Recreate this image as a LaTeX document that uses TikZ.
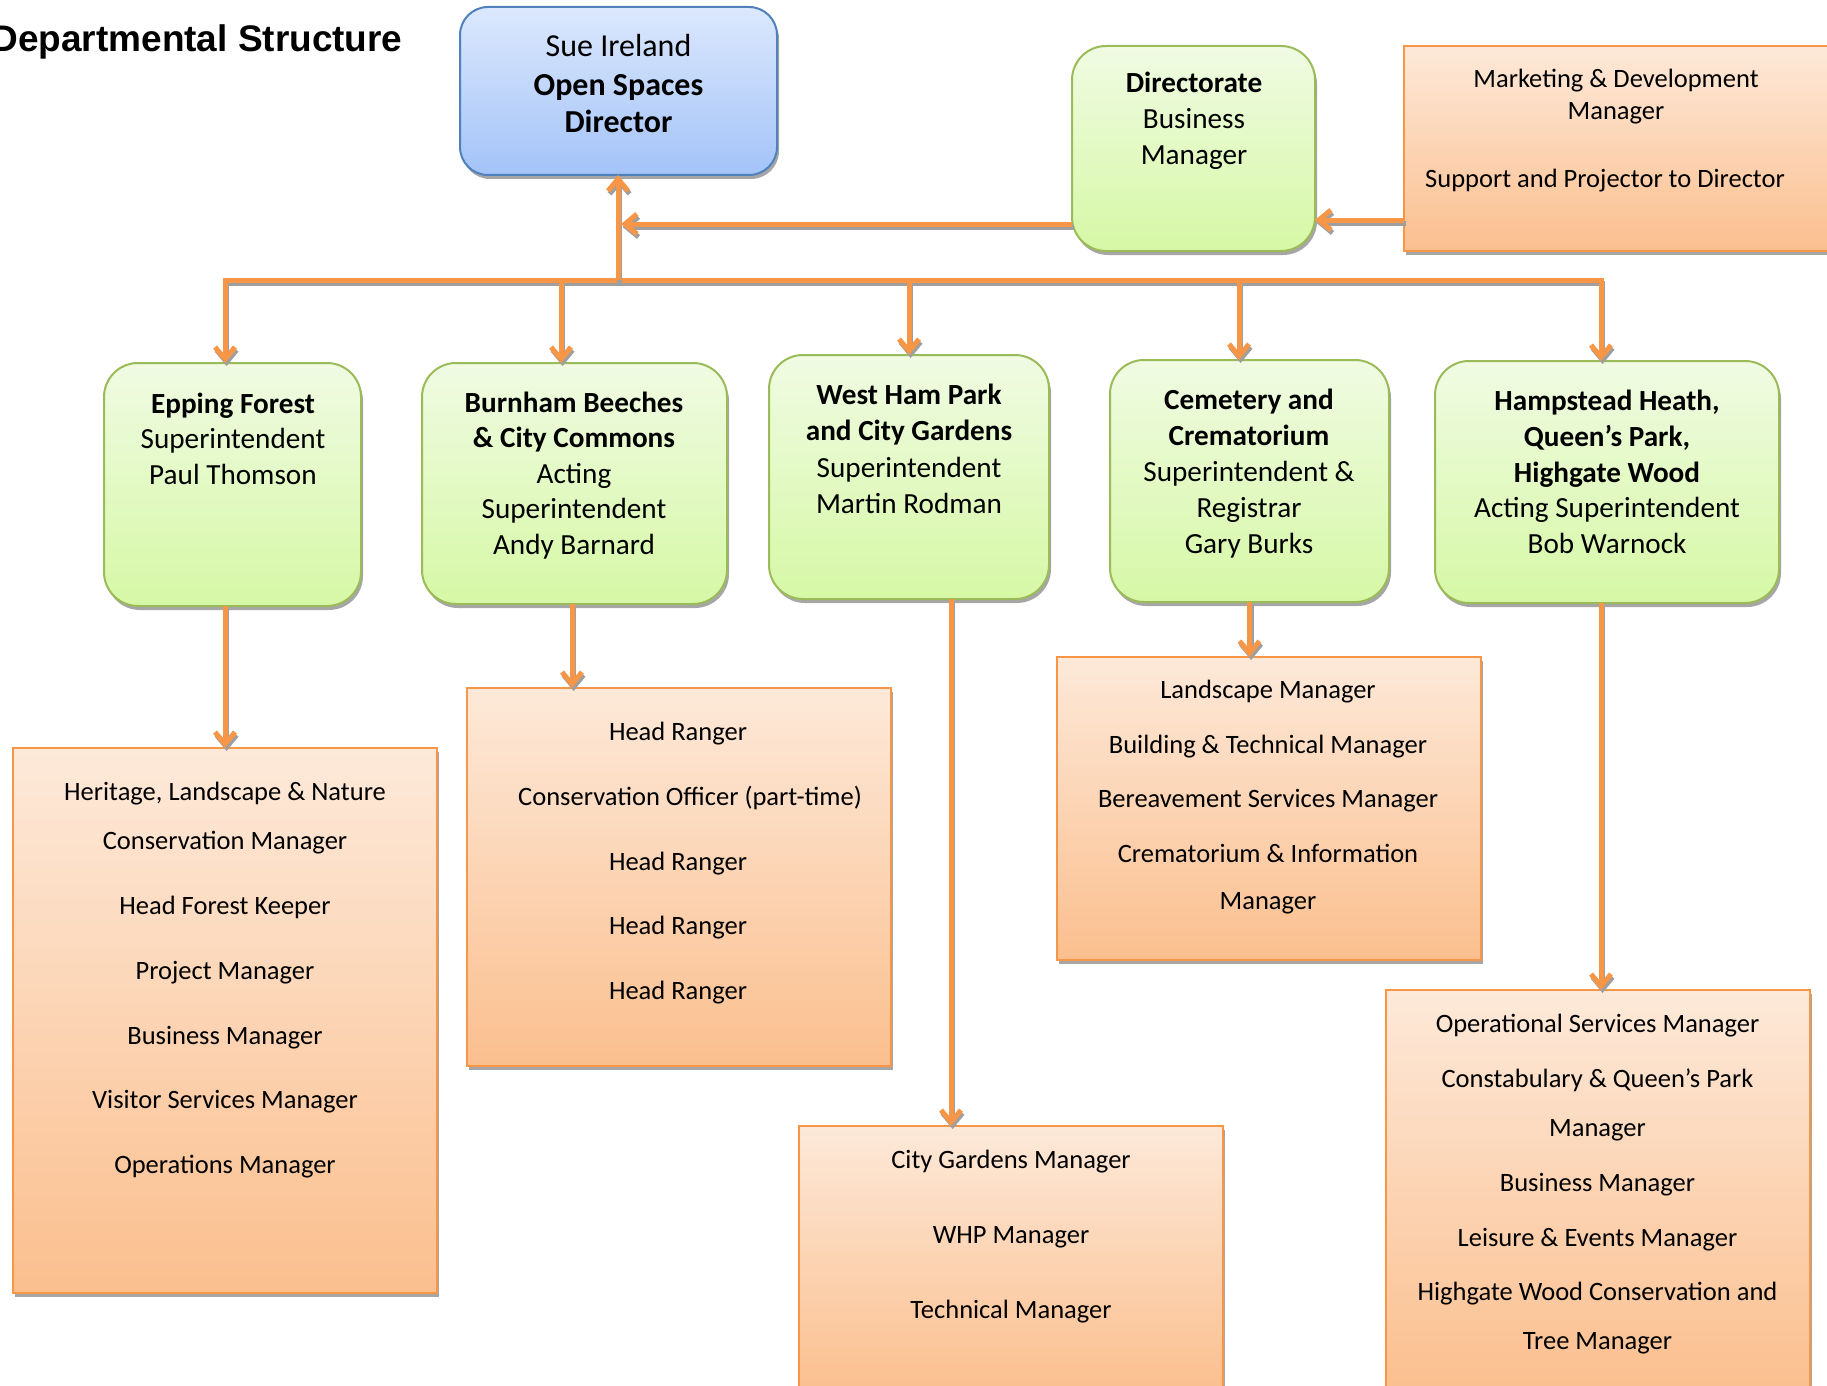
\documentclass[tikz,border=0pt]{standalone}
\usepackage{fontspec}
\setmainfont{Carlito}
\newfontfamily\titlefont{Liberation Sans}
\usetikzlibrary{arrows.meta,shadows}
\definecolor{lineor}{HTML}{F79646}
\definecolor{oTop}{HTML}{FDE9D9}
\definecolor{oBot}{HTML}{FBBF8E}
\definecolor{gTop}{HTML}{F0FBE3}
\definecolor{gBot}{HTML}{D6F8A5}
\definecolor{gBorder}{HTML}{9BBB59}
\definecolor{bTop}{HTML}{DCE8FD}
\definecolor{bBot}{HTML}{A3C3F8}
\definecolor{bBorder}{HTML}{4F81BD}
\newcommand\mkbox[6]{\node[#1, minimum width={(#5-#3)*0.5pt}, minimum height={(#6-#4)*0.5pt}] (#2) at ({(#3+#5)/2},{(#4+#6)/2}) {};}
\newcommand\textlines[4]{\foreach \py/\ptext [count=\i] in {#4} {\node[#3] (#1-\i) at (#2,\py) {\ptext};}}
\newcommand\connector[2]{%
  \begin{scope}[transform canvas={xshift=0.8pt,yshift=-1.5pt}]\draw[conshadow,#1] #2;\end{scope}
  \draw[conline,#1] #2;}
\begin{document}
\begin{tikzpicture}[x=0.5pt,y=-0.5pt,
  boxbase/.style={inner sep=0pt, outer sep=0pt, line width=1pt,
    drop shadow={shadow xshift=1pt, shadow yshift=-2pt, fill=black, opacity=0.35}},
  bluebox/.style={boxbase, draw=bBorder, rounded corners=14pt, top color=bTop, bottom color=bBot},
  greenbox/.style={boxbase, draw=gBorder, rounded corners=17pt, top color=gTop, bottom color=gBot},
  orangebox/.style={boxbase, draw=lineor, top color=oTop, bottom color=oBot},
  txtbase/.style={anchor=base, inner sep=0pt, text=black},
  dtext/.style={txtbase, font=\fontsize{16}{19}\selectfont},
  gtext/.style={txtbase, font=\fontsize{14.6}{18}\selectfont},
  otext/.style={txtbase, font=\fontsize{13.25}{16}\selectfont},
  conline/.style={draw=lineor, line width=2.5pt},
  conshadow/.style={draw=gray!75, line width=2.5pt},
  arr/.style={-{Straight Barb[length=6pt,width=10pt]}},
  busline/.style={line cap=rect}]
\useasboundingbox (0,0) rectangle (1827,1386);

% title
\node[anchor=base east, inner sep=0pt, font=\titlefont\bfseries\fontsize{18.5}{22}\selectfont] (title) at (403,52) {Departmental Structure};

% boxes
\mkbox{bluebox}{dir}{460}{7}{777}{175}
\mkbox{greenbox}{dbm}{1072}{46}{1315}{251}
\mkbox{orangebox}{mkt}{1404}{46}{1832}{251}
\mkbox{greenbox}{ep}{104}{363}{361}{606}
\mkbox{greenbox}{bb}{422}{363}{727}{604}
\mkbox{greenbox}{wh}{769}{355}{1049}{599}
\mkbox{greenbox}{cc}{1110}{360}{1389}{602}
\mkbox{greenbox}{hh}{1435}{361}{1779}{603}
\mkbox{orangebox}{eps}{13}{748}{437}{1293}
\mkbox{orangebox}{bbs}{467}{688}{891}{1066}
\mkbox{orangebox}{whs}{799}{1126}{1223}{1392}
\mkbox{orangebox}{ccs}{1057}{657}{1481}{960}
\mkbox{orangebox}{hhs}{1386}{990}{1810}{1392}

% texts
\textlines{dirt}{618.5}{dtext}{57/{Sue Ireland}, 96/{\bfseries Open Spaces}, 133/{\bfseries Director}}
\textlines{dbmt}{1194}{gtext}{93/{\bfseries Directorate}, 129/{Business}, 165/{Manager}}
\node[otext] (mkt-1) at (1616,88) {Marketing \& Development};
\node[otext] (mkt-2) at (1616,120) {Manager};
\node[otext] (mkt-3) at (1605,188) {Support and Projector to Director};
\textlines{ept}{233}{gtext}{413/{\bfseries Epping Forest}, 448/{Superintendent}, 484/{Paul Thomson}}
\textlines{bbt}{574}{gtext}{412/{\bfseries Burnham Beeches}, 447/{\bfseries \& City Commons}, 483/{Acting}, 518/{Superintendent}, 554/{Andy Barnard}}
\textlines{wht}{909}{gtext}{404/{\bfseries West Ham Park}, 440/{\bfseries and City Gardens}, 477/{Superintendent}, 513/{Martin Rodman}}
\textlines{cct}{1249}{gtext}{409/{\bfseries Cemetery and}, 445/{\bfseries Crematorium}, 481/{Superintendent \&}, 517/{Registrar}, 553/{Gary Burks}}
\textlines{hht}{1607}{gtext}{410/{\bfseries Hampstead Heath,}, 446/{\bfseries Queen’s Park,}, 482/{\bfseries Highgate Wood}, 517/{Acting Superintendent}, 553/{Bob Warnock}}
\textlines{epst}{225}{otext}{800/{Heritage, Landscape \& Nature}, 849/{Conservation Manager}, 914/{Head Forest Keeper}, 979/{Project Manager}, 1044/{Business Manager}, 1108/{Visitor Services Manager}, 1173/{Operations Manager}}
\textlines{bbst}{678}{otext}{740/{Head Ranger}, 870/{Head Ranger}, 934/{Head Ranger}, 999/{Head Ranger}}
\node[otext] (bbst-co) at (690,805) {Conservation Officer (part-time)};
\textlines{whst}{1011}{otext}{1168/{City Gardens Manager}, 1243/{WHP Manager}, 1318/{Technical Manager}}
\textlines{ccst}{1268}{otext}{698/{Landscape Manager}, 753/{Building \& Technical Manager}, 807/{Bereavement Services Manager}, 862/{Crematorium \& Information}, 909/{Manager}}
\textlines{hhst}{1597.5}{otext}{1032/{Operational Services Manager}, 1087/{Constabulary \& Queen’s Park}, 1136/{Manager}, 1191/{Business Manager}, 1246/{Leisure \& Events Manager}, 1300/{Highgate Wood Conservation and}, 1349/{Tree Manager}}

% connector points
\coordinate (b1) at (225,280);
\coordinate (b2) at (561,280);
\coordinate (bM) at (618,280);
\coordinate (b3) at (909,280);
\coordinate (b4) at (1239,280);
\coordinate (b5) at (1601,280);
\coordinate (dj) at (621,224);

% connectors
\connector{busline}{(b1) -- (b5)}
\connector{arr}{(bM) -- (bM |- dir.south)}
\connector{arr}{([yshift=-37.75pt]dbm.west) -- (dj)}
\connector{arr}{([yshift=-35.75pt]mkt.west) -- ([yshift=-35.75pt]dbm.east)}
\connector{arr}{(b1) -- (b1 |- ep.north)}
\connector{arr}{(b2) -- (b2 |- bb.north)}
\connector{arr}{(b3) -- (b3 |- wh.north)}
\connector{arr}{(b4) -- (b4 |- cc.north)}
\connector{arr}{(b5) -- (b5 |- hh.north)}
\connector{arr}{(eps.north |- ep.south) -- (eps.north)}
\connector{arr}{([xshift=-1.25pt]bb.south) -- ([xshift=-1.25pt]bb.south |- bbs.north)}
\connector{arr}{([xshift=21pt]wh.south) -- ([xshift=21pt]wh.south |- whs.north)}
\connector{arr}{(cc.south) -- (cc.south |- ccs.north)}
\connector{arr}{([xshift=-3pt]hh.south) -- ([xshift=-3pt]hh.south |- hhs.north)}
\end{tikzpicture}
\end{document}
